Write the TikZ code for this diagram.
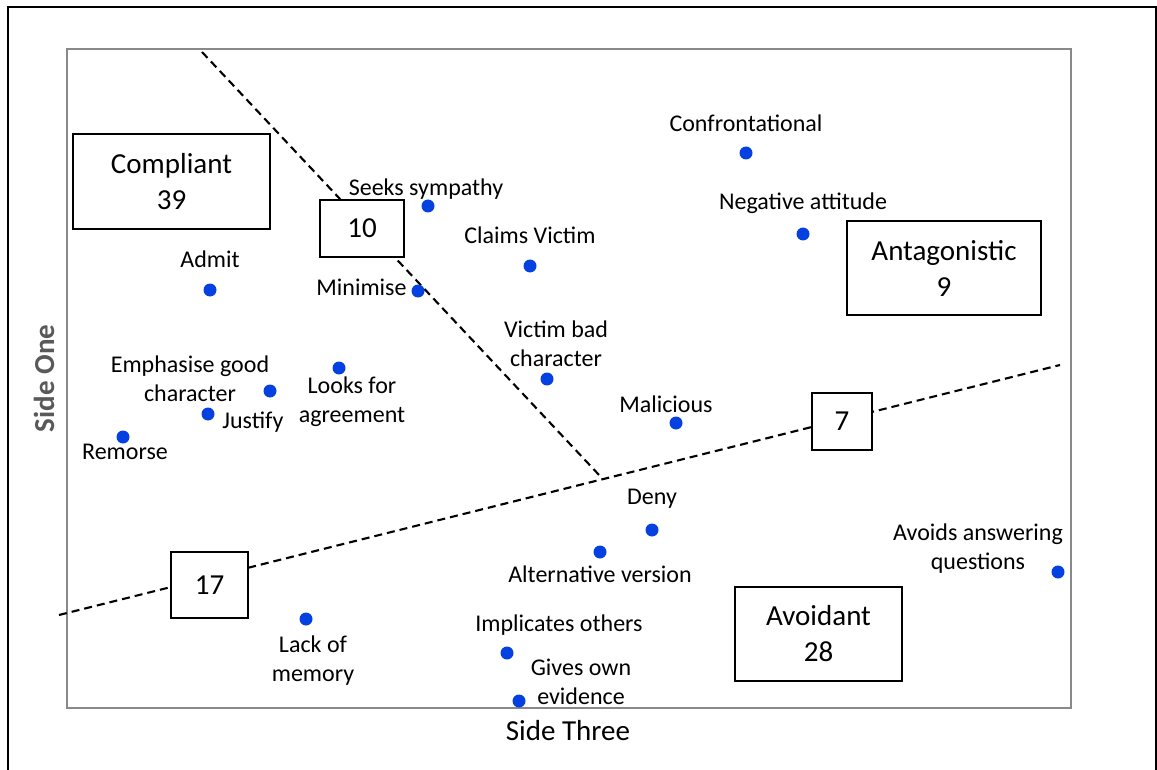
\documentclass[tikz,border=0pt]{standalone}
\usepackage{fontspec}
\setmainfont{Carlito}
\definecolor{dotblue}{RGB}{5,65,225}
\definecolor{framegray}{RGB}{137,137,137}
\definecolor{axisgray}{RGB}{89,89,89}
\begin{document}
\begin{tikzpicture}[x=1pt,y=-1pt,
  lbl/.style={inner sep=0pt, align=center, font=\fontsize{24}{29}\selectfont},
  dot/.style={circle, fill=dotblue, inner sep=0pt, minimum size=13pt},
  catbox/.style={draw=black, line width=2pt, fill=white, align=center, inner sep=0pt,
                 font=\fontsize{29}{36}\selectfont},
  divider/.style={black, line width=2.1pt, dash pattern=on 8pt off 5pt}]
\useasboundingbox (0,0) rectangle (1157,770);

% outer border and plot frame
\draw[line width=1.5pt] (8,770) -- (8,7) -- (1156,7) -- (1156,770);
\draw[framegray, line width=2pt] (67,49) rectangle (1071,708);

% dividing lines between the regions
\coordinate (a1) at (202,52);
\coordinate (a2) at (600,476);
\coordinate (b1) at (59,615);
\coordinate (b2) at (1060,365);
\draw[divider] (a1) -- (a2);
\draw[divider] (b1) -- (b2);

% region boxes
\node[catbox, minimum width=197pt, minimum height=95pt] (compliant) at (171.5,181.5) {Compliant\\39};
\node[catbox, minimum width=194pt, minimum height=94pt] (antagonistic) at (944,268) {Antagonistic\\9};
\node[catbox, minimum width=167pt, minimum height=94pt] (avoidant) at (818.5,634) {Avoidant\\28};
\node[catbox, minimum width=84pt, minimum height=57pt] (b10) at (362,228.5) {10};
\node[catbox, minimum width=60pt, minimum height=57pt] (b7) at (842,421.5) {7};
\node[catbox, minimum width=77pt, minimum height=66pt] (b17) at (209.5,585) {17};

% data points
\node[dot] (d1) at (746,153) {};
\node[dot] (d2) at (803,234) {};
\node[dot] (d3) at (428,206) {};
\node[dot] (d4) at (530,266) {};
\node[dot] (d5) at (418,291) {};
\node[dot] (d6) at (210,290) {};
\node[dot] (d7) at (547,379) {};
\node[dot] (d8) at (339,368) {};
\node[dot] (d9) at (270,391) {};
\node[dot] (d10) at (208,414) {};
\node[dot] (d11) at (123,437) {};
\node[dot] (d12) at (676,423) {};
\node[dot] (d13) at (652,530) {};
\node[dot] (d14) at (600,552) {};
\node[dot] (d15) at (1058,572) {};
\node[dot] (d16) at (306,619) {};
\node[dot] (d17) at (507,653) {};
\node[dot] (d18) at (519,701) {};

% point labels
\node[lbl] (l1) at (746,123) {Confrontational};
\node[lbl] (l2) at (803,203) {Negative attitude};
\node[lbl] (l3) at (426,189) {Seeks sympathy};
\node[lbl] (l4) at (530,235) {Claims Victim};
\node[lbl] (l5) at (361.5,287) {Minimise};
\node[lbl] (l6) at (210,259) {Admit};
\node[lbl] (l7) at (556,343.5) {Victim bad\\character};
\node[lbl] (l8) at (352,401.5) {Looks for\\agreement};
\node[lbl] (l9) at (190,379) {Emphasise good\\character};
\node[lbl] (l10) at (253,422) {Justify};
\node[lbl] (l11) at (125,452) {Remorse};
\node[lbl] (l12) at (666,404) {Malicious};
\node[lbl] (l13) at (652,499) {Deny};
\node[lbl] (l14) at (600,574) {Alternative version};
\node[lbl] (l15) at (978,548.5) {Avoids answering\\questions};
\node[lbl] (l16) at (313,660.5) {Lack of\\memory};
\node[lbl] (l17) at (559,625) {Implicates others};
\node[lbl] (l18) at (581,681.5) {Gives own\\evidence};

% axis titles
\node[inner sep=0pt, rotate=90, text=axisgray, font=\fontsize{29}{35}\selectfont\bfseries] (yaxis) at (44,378.5) {Side One};
\node[inner sep=0pt, font=\fontsize{29}{35}\selectfont] (xaxis) at (568,731) {Side Three};
\end{tikzpicture}
\end{document}
